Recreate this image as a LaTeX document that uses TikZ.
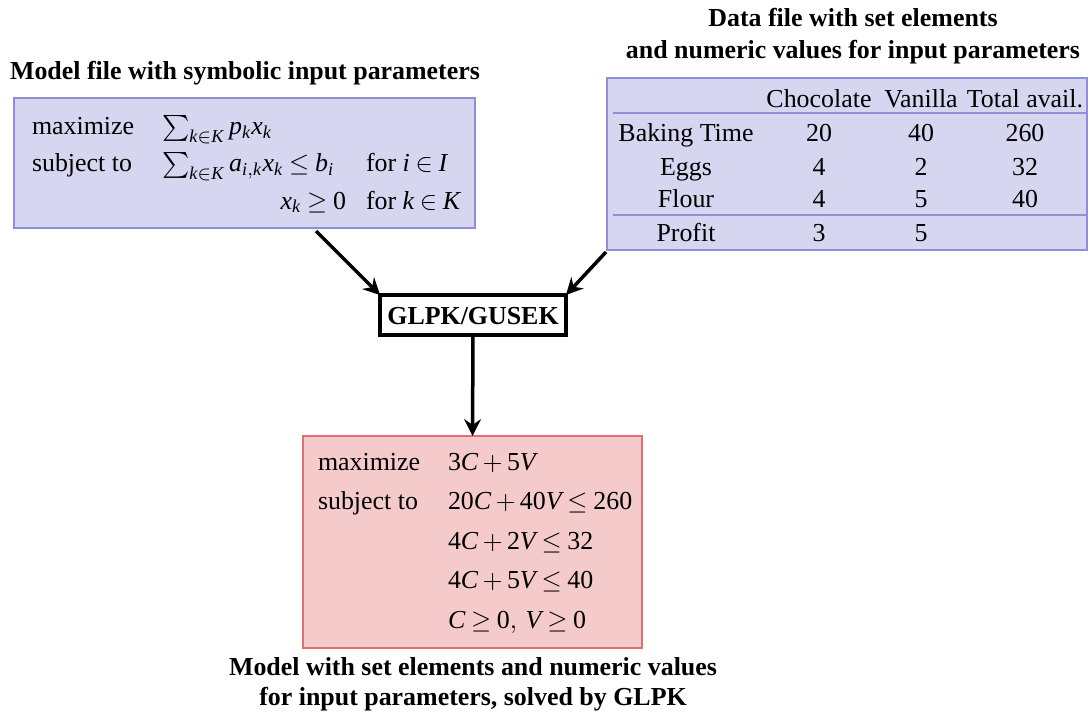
\documentclass[tikz,border=0pt]{standalone}
\usepackage{fontspec}
\setmainfont{Liberation Serif}
\usetikzlibrary{arrows.meta}
\definecolor{bfill}{HTML}{D6D6F0}
\definecolor{bline}{HTML}{8F8FD8}
\definecolor{pfill}{HTML}{F4CACB}
\definecolor{pline}{HTML}{E26E72}
\newcommand\vi[1]{\mathit{#1}}
\newcommand\vr[1]{\mathrm{#1}}
\newcommand\tightmath{\medmuskip=3mu\thickmuskip=4mu}
\begin{document}
\begin{tikzpicture}[x=0.386pt,y=-0.386pt,
  every node/.style={font=\fontsize{10}{12}\selectfont\tightmath, inner sep=0pt, outer sep=0pt},
  bluebox/.style={draw=bline, fill=bfill, line width=0.8pt, minimum width=#1},
  pinkbox/.style={draw=pline, fill=pfill, line width=0.8pt},
  glpkbox/.style={draw=black, line width=1.35pt, fill=white},
  hdr/.style={font=\fontsize{10}{12}\selectfont\bfseries, anchor=base},
  tx/.style={anchor=base west},
  cell/.style={anchor=base},
  arr/.style={line width=1.35pt, -{Stealth[length=6.5pt,width=6.5pt,inset=2.2pt]}},
  rule/.style={draw=bline, line width=0.6pt}]
\useasboundingbox (0,0) rectangle (1088,713);

% boxes
\node[bluebox=461*0.386pt, minimum height=130*0.386pt] (model) at (244.5,163) {};
\node[bluebox=480*0.386pt, minimum height=172*0.386pt] (data) at (847,164) {};
\node[glpkbox, minimum width=186*0.386pt, minimum height=40*0.386pt] (glpk) at (473,315) {};
\node[pinkbox, minimum width=339*0.386pt, minimum height=212*0.386pt] (res) at (472.5,542) {};

% headers
\node[hdr] (h1) at (245,80) {Model file with symbolic input parameters};
\node[hdr] (h2) at (853,27) {Data file with set elements};
\node[hdr] (h3) at (853,59) {and numeric values for input parameters};
\node[hdr] (h4) at (473,675) {Model with set elements and numeric values};
\node[hdr] (h5) at (473,705) {for input parameters, solved by GLPK};
\node[hdr] (gl) at (473,324) {GLPK/GUSEK};

% model text
\node[tx] (m1) at (32,135) {maximize};
\node[tx] (m2) at (32,172) {subject to};
\node[tx] (m3) at (162,135) {$\sum_{\vi{k}\in \vi{K}} \vi{p}_{\vi{k}}\vi{x}_{\vi{k}}$};
\node[tx] (m4) at (162,172) {$\sum_{\vi{k}\in \vi{K}} \vi{a}_{\vi{i},\vi{k}}\vi{x}_{\vi{k}} \le \vi{b}_{\vi{i}}$};
\node[anchor=base east] (m5) at (346,209) {$\vi{x}_{\vi{k}} \ge \vr{0}$};
\node[tx] (m6) at (366,172) {for $\vi{i}\in \vi{I}$};
\node[tx] (m7) at (366,209) {for $\vi{k}\in \vi{K}$};

% data table
\draw[rule] (613,113) -- (1088,113);
\draw[rule] (613,215) -- (1088,215);
\node[cell] (c1) at (819,108) {Chocolate};
\node[cell] (c2) at (921,108) {Vanilla};
\node[cell] (c3) at (1025,108) {Total avail.};
\node[cell] (r1) at (686,141) {Baking Time};
\node[cell] (r2) at (686,175) {Eggs};
\node[cell] (r3) at (686,208) {Flour};
\node[cell] (r4) at (686,241) {Profit};
\node[cell] (v11) at (819,141) {20};
\node[cell] (v12) at (921,141) {40};
\node[cell] (v13) at (1025,141) {260};
\node[cell] (v21) at (819,175) {4};
\node[cell] (v22) at (921,175) {2};
\node[cell] (v23) at (1025,175) {32};
\node[cell] (v31) at (819,208) {4};
\node[cell] (v32) at (921,208) {5};
\node[cell] (v33) at (1025,208) {40};
\node[cell] (v41) at (819,241) {3};
\node[cell] (v42) at (921,241) {5};

% result text
\node[tx] (p1) at (318,470) {maximize};
\node[tx] (p2) at (318,509) {subject to};
\node[tx] (q1) at (448,470) {$\vr{3}\vi{C} + \vr{5}\vi{V}$};
\node[tx] (q2) at (448,509) {$\vr{20}\vi{C} + \vr{40}\vi{V} \le \vr{260}$};
\node[tx] (q3) at (448,549) {$\vr{4}\vi{C} + \vr{2}\vi{V} \le \vr{32}$};
\node[tx] (q4) at (448,588) {$\vr{4}\vi{C} + \vr{5}\vi{V} \le \vr{40}$};
\node[tx] (q5) at (448,628) {$\vi{C} \ge \vr{0},\, \vi{V} \ge \vr{0}$};

% connectors
\coordinate (a1) at (316,231);
\coordinate (a2) at (606,252);
\draw[arr] (a1) -- (glpk.north west);
\draw[arr] (a2) -- (glpk.north east);
\draw[arr] (glpk.south) -- (res.north);
\end{tikzpicture}
\end{document}
